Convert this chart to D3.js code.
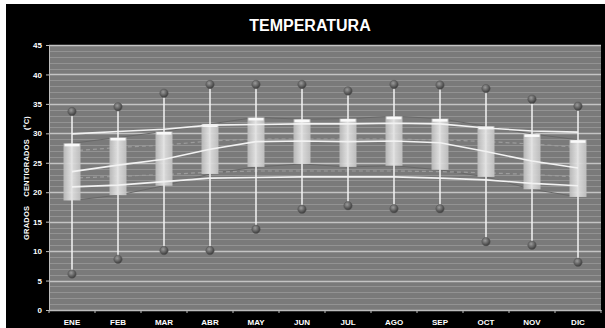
<!DOCTYPE html>
<html>
<head>
<meta charset="utf-8">
<script src="https://cdn.jsdelivr.net/npm/d3@7"></script>
<style>
  html, body { margin: 0; padding: 0; background: #fff; }
  svg { display: block; }
  text { font-family: "Liberation Sans Narrow", "Liberation Sans", Arial, sans-serif; }
</style>
</head>
<body>
<div id="app"></div>
<script>
const months = ["ENE", "FEB", "MAR", "ABR", "MAY", "JUN", "JUL", "AGO", "SEP", "OCT", "NOV", "DIC"];
// absolute extremes (whisker ends)
const absMax = [33.7, 34.5, 36.8, 38.3, 38.3, 38.3, 37.2, 38.3, 38.2, 37.6, 35.8, 34.6];
const absMin = [6.1, 8.6, 10.1, 10.1, 13.7, 17.1, 17.7, 17.2, 17.2, 11.6, 11.0, 8.1];
// box ends
const boxTop = [28.3, 29.3, 30.3, 31.6, 32.7, 32.4, 32.5, 32.9, 32.5, 31.2, 29.9, 28.9];
const boxBottom = [18.6, 19.5, 21.1, 23.1, 24.3, 24.8, 24.3, 24.5, 23.8, 22.6, 20.5, 19.2];
// white lines
const upperLine = [29.9, 30.3, 30.7, 31.4, 31.5, 31.6, 31.6, 31.7, 31.6, 30.9, 30.4, 30.2];
const meanLine = [23.5, 24.6, 25.6, 27.3, 28.6, 28.7, 28.6, 28.7, 28.4, 26.9, 25.3, 24.1];
const lowerLine = [20.9, 21.2, 21.8, 22.4, 22.5, 22.6, 22.6, 22.6, 22.4, 22.1, 21.5, 21.1];
// faint dashed lines
const dashUpper = [27.0, 27.6, 28.0, 28.7, 29.0, 29.0, 29.0, 29.0, 28.9, 28.6, 28.2, 27.6];
const dashLower = [22.4, 22.7, 23.0, 23.4, 23.6, 23.6, 23.6, 23.6, 23.5, 23.3, 23.0, 22.6];

const yTicks = [0, 5, 10, 15, 20, 25, 30, 35, 40, 45];

const width = 605;
const height = 328;
const margin = { top: 45, right: 4, bottom: 18, left: 49 };

const svg = d3
  .select("#app")
  .append("svg")
  .attr("width", width)
  .attr("height", height)
  .attr("viewBox", [0, 0, width, height]);

const defs = svg.append("defs");

const boxGrad = defs.append("linearGradient").attr("id", "boxGrad");
boxGrad.append("stop").attr("offset", "0%").attr("stop-color", "#bcbcbc");
boxGrad.append("stop").attr("offset", "45%").attr("stop-color", "#e4e4e4");
boxGrad.append("stop").attr("offset", "100%").attr("stop-color", "#c2c2c2");

const ballGrad = defs
  .append("radialGradient")
  .attr("id", "ballGrad")
  .attr("cx", "40%")
  .attr("cy", "35%")
  .attr("r", "65%");
ballGrad.append("stop").attr("offset", "0%").attr("stop-color", "#9a9a9a");
ballGrad.append("stop").attr("offset", "100%").attr("stop-color", "#3a3a3a");

// frame: white strip on left/top like the cropped screenshot
svg.append("rect").attr("x", 6).attr("y", 4).attr("width", width - 6).attr("height", height - 4).attr("fill", "#000");

svg
  .append("text")
  .attr("x", 310)
  .attr("y", 31)
  .attr("text-anchor", "middle")
  .attr("fill", "#fff")
  .attr("font-weight", "bold")
  .attr("font-size", 16)
  .text("TEMPERATURA");

const x = d3
  .scaleBand()
  .domain(months)
  .range([margin.left, width - margin.right])
  .padding(0);

const y = d3
  .scaleLinear()
  .domain([0, 45])
  .range([height - margin.bottom, margin.top]);

svg
  .append("rect")
  .attr("x", margin.left)
  .attr("y", margin.top)
  .attr("width", width - margin.right - margin.left)
  .attr("height", y(0) - y(45))
  .attr("fill", "#7a7a7a");

// minor grid every degree, major every 5
const grid = svg.append("g");
grid
  .selectAll("line")
  .data(d3.range(0, 46))
  .join("line")
  .attr("x1", margin.left)
  .attr("x2", width - margin.right)
  .attr("y1", (d) => Math.round(y(d)) + 0.5)
  .attr("y2", (d) => Math.round(y(d)) + 0.5)
  .attr("stroke", (d) => (d % 5 === 0 ? "#c4c4c4" : "#939393"))
  .attr("stroke-width", (d) => (d % 5 === 0 ? 1.4 : 1));

const cx = (d) => x(d) + x.bandwidth() / 2;

const line = (vals) =>
  d3
    .line()
    .x((d, i) => cx(months[i]))
    .y((d) => y(d))(vals);

// dim connectors along box ends
[boxTop, boxBottom].forEach((vals) => {
  svg.append("path").attr("d", line(vals)).attr("fill", "none").attr("stroke", "#686868").attr("stroke-width", 1);
});

[dashUpper, dashLower].forEach((vals) => {
  svg
    .append("path")
    .attr("d", line(vals))
    .attr("fill", "none")
    .attr("stroke", "#9c9c9c")
    .attr("stroke-width", 1.2)
    .attr("stroke-dasharray", "4,3");
});

// high-low whiskers
svg
  .append("g")
  .selectAll("line")
  .data(months)
  .join("line")
  .attr("x1", cx)
  .attr("x2", cx)
  .attr("y1", (d, i) => y(absMax[i]))
  .attr("y2", (d, i) => y(absMin[i]))
  .attr("stroke", "#f4f4f4")
  .attr("stroke-width", 1.5);

// boxes
const boxW = 17;
const boxes = svg.append("g").selectAll("g").data(months).join("g");
boxes
  .append("rect")
  .attr("x", (d) => cx(d) - boxW / 2)
  .attr("y", (d, i) => y(boxTop[i]))
  .attr("width", boxW)
  .attr("height", (d, i) => y(boxBottom[i]) - y(boxTop[i]))
  .attr("fill", "url(#boxGrad)")
  .attr("fill-opacity", 0.93);
boxes
  .append("rect")
  .attr("x", (d) => cx(d) - boxW / 2 + 1)
  .attr("y", (d, i) => y(boxTop[i]) + 0.5)
  .attr("width", boxW - 2)
  .attr("height", 2.5)
  .attr("fill", "#fafafa");

// white series lines
[upperLine, meanLine, lowerLine].forEach((vals) => {
  svg.append("path").attr("d", line(vals)).attr("fill", "none").attr("stroke", "#f2f2f2").attr("stroke-width", 1.6);
});

// balls at extremes
const balls = svg.append("g");
[absMax, absMin].forEach((vals) => {
  balls
    .append("g")
    .selectAll("circle")
    .data(months)
    .join("circle")
    .attr("cx", cx)
    .attr("cy", (d, i) => y(vals[i]))
    .attr("r", 4.2)
    .attr("fill", "url(#ballGrad)")
    .attr("stroke", "#5a5a5a")
    .attr("stroke-width", 0.6);
});

// axes
const yAxis = svg
  .append("g")
  .attr("transform", `translate(${margin.left},0)`)
  .call(d3.axisLeft(y).tickValues(yTicks).tickSize(3).tickPadding(4));
yAxis.select(".domain").attr("stroke", "#bdbdbd");
yAxis.selectAll(".tick line").attr("stroke", "#bdbdbd");
yAxis
  .selectAll("text")
  .attr("fill", "#fff")
  .attr("font-weight", "bold")
  .attr("font-size", 8)
  .style("font-family", "'Liberation Sans Narrow', 'Liberation Sans', sans-serif");

const xAxis = svg
  .append("g")
  .attr("transform", `translate(0,${y(0)})`)
  .call(d3.axisBottom(x).tickSize(0).tickPadding(9));
xAxis.select(".domain").attr("stroke", "#bdbdbd");
xAxis
  .selectAll("text")
  .attr("fill", "#fff")
  .attr("font-weight", "bold")
  .attr("font-size", 8)
  .style("font-family", "'Liberation Sans Narrow', 'Liberation Sans', sans-serif");

// boundary ticks between categories
svg
  .append("g")
  .selectAll("line")
  .data(d3.range(0, months.length + 1))
  .join("line")
  .attr("x1", (i) => margin.left + i * x.bandwidth())
  .attr("x2", (i) => margin.left + i * x.bandwidth())
  .attr("y1", y(0))
  .attr("y2", y(0) + 3)
  .attr("stroke", "#bdbdbd");

svg
  .append("text")
  .attr("transform", `translate(29,178) rotate(-90)`)
  .attr("text-anchor", "middle")
  .attr("fill", "#fff")
  .attr("font-weight", "bold")
  .attr("font-size", 7.5)
  .attr("letter-spacing", 0.2)
  .style("white-space", "pre")
  .text("GRADOS    CENTIGRADOS    (ºC)");
</script>
</body>
</html>
